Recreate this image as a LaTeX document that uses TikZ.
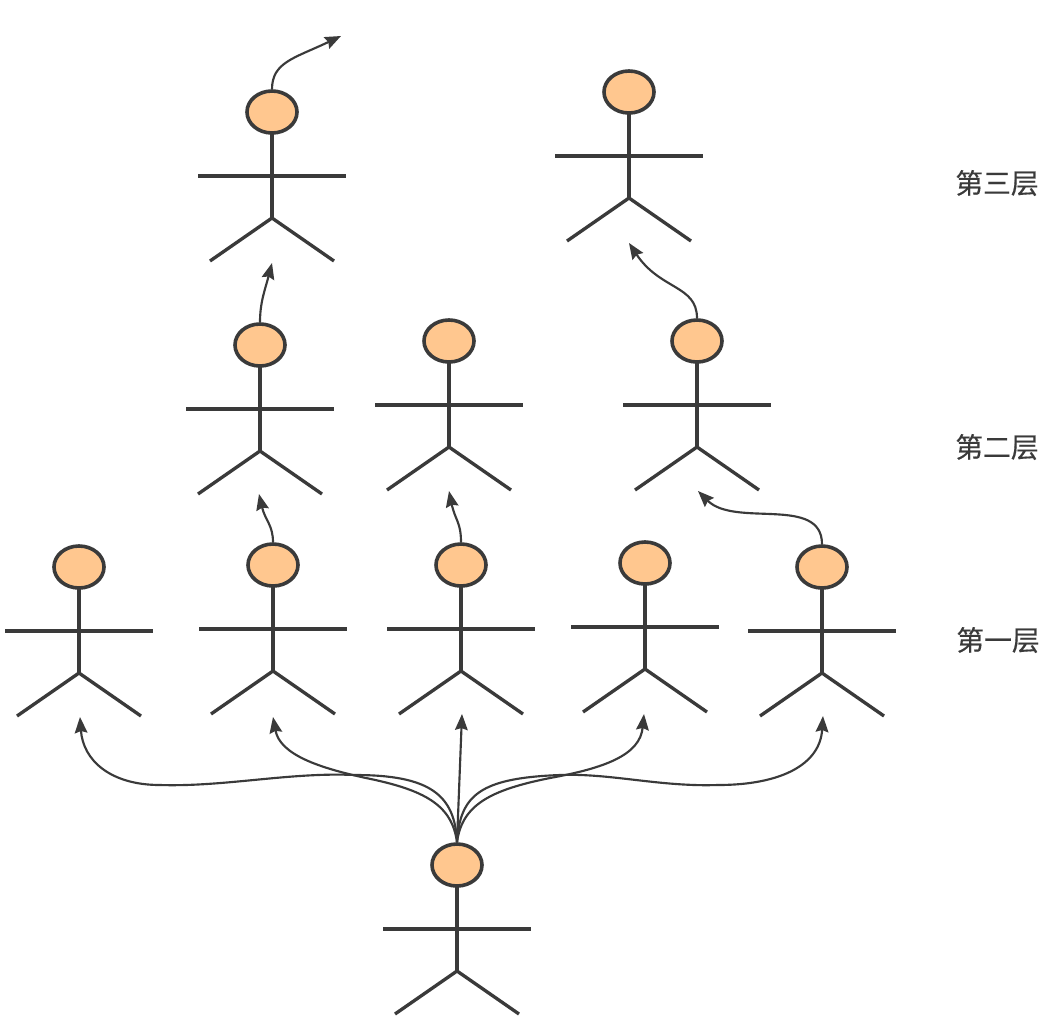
\documentclass[tikz,border=0pt]{standalone}
\usepackage{fontspec}
\usetikzlibrary{shapes.geometric,arrows.meta}
\newfontfamily\cjk[FakeBold=0.4]{Noto Sans CJK SC}
\definecolor{ink}{HTML}{3A3A3A}
\definecolor{skin}{HTML}{FFC78F}
\tikzset{
  headnode/.style={ellipse,draw=ink,fill=skin,line width=2.7pt,minimum width=37.5pt,minimum height=31.5pt,inner sep=0pt},
  limb/.style={draw=ink,line width=2.5pt},
  link/.style={draw=ink,line width=1.6pt,-{Stealth[length=12pt,width=9.5pt,inset=1.5pt]}},
  layerlabel/.style={text=ink,font=\cjk\fontsize{20.8}{24}\selectfont,inner sep=0pt}
}
% \person{name}{x}{y of head centre}
\newcommand{\person}[3]{%
  \coordinate (#1c) at (#2,#3);
  \draw[limb] (#1c) -- ++(0,106) coordinate (#1hip);
  \draw[limb] ([xshift=-74*0.75pt,yshift=-64*0.75pt]#1c) -- ([xshift=74*0.75pt,yshift=-64*0.75pt]#1c);
  \draw[limb] ([xshift=-62*0.75pt,yshift=-149*0.75pt]#1c) -- (#1hip) -- ([xshift=62*0.75pt,yshift=-149*0.75pt]#1c);
  \node[headnode] (#1) at (#1c) {};
}
\begin{document}
\begin{tikzpicture}[x=0.75pt,y=-0.75pt]
\useasboundingbox (0,0) rectangle (1060,1022);
\fill[white] (0,0) rectangle (1060,1022);
\person{ta}{272}{112}
\person{tb}{629}{92}
\person{sa}{260}{345}
\person{sb}{449}{341}
\person{sc}{697}{341}
\person{fa}{79}{567}
\person{fb}{273}{565}
\person{fc}{461}{565}
\person{fd}{645}{563}
\person{fe}{822}{567}
\person{root}{457}{865}
\coordinate (out) at (341,36);
\coordinate (tasp) at (272,263);
\coordinate (tbsp) at (629,243);
\coordinate (sasp) at (259,494);
\coordinate (sbsp) at (449,491);
\coordinate (scsp) at (698,491);
\coordinate (fasp) at (80,717);
\coordinate (fbsp) at (273,717);
\coordinate (fcsp) at (462,714);
\coordinate (fdsp) at (644,714);
\coordinate (fesp) at (823,716);
\draw[link] (ta.north) .. controls (272,62) and (295,58) .. (out);
\draw[link] (sa.north) .. controls (260,302) and (265,290) .. (tasp);
\draw[link] (sc.north) .. controls (697,285) and (660,290) .. (tbsp);
\draw[link] (fb.north) .. controls (273,525) and (265,520) .. (sasp);
\draw[link] (fc.north) .. controls (461,522) and (455,520) .. (sbsp);
\draw[link] (fe.north) .. controls (822,495) and (735,528) .. (scsp);
\draw[link] (root.north) .. controls (455,795) and (430,775) .. (355,775)
  .. controls (290,772) and (225,787) .. (160,785)
  .. controls (110,785) and (83,760) .. (fasp);
\draw[link] (root.north) .. controls (452,805) and (425,790) .. (366,778)
  .. controls (320,768) and (280,755) .. (fbsp);
\draw[link] (root.north) -- (fcsp);
\draw[link] (root.north) .. controls (462,805) and (490,790) .. (550,778)
  .. controls (605,768) and (640,755) .. (fdsp);
\draw[link] (root.north) .. controls (460,795) and (480,778) .. (560,775)
  .. controls (610,773) and (660,787) .. (718,785)
  .. controls (780,785) and (820,765) .. (fesp);
\node[layerlabel] (l3) at (997,183) {第三层};
\node[layerlabel] (l2) at (997,447) {第二层};
\node[layerlabel] (l1) at (998,640) {第一层};
\end{tikzpicture}
\end{document}
